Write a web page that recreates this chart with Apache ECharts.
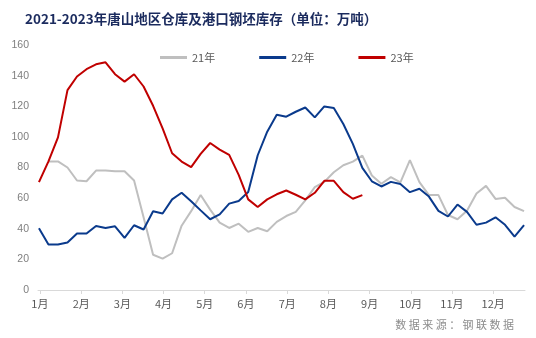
<!DOCTYPE html>
<html>
<head>
<meta charset="utf-8">
<script src="https://cdn.jsdelivr.net/npm/echarts@6/dist/echarts.min.js"></script>
<style>html,body{margin:0;padding:0;background:#fff;}#c{width:536px;height:338px;}</style>
</head>
<body>
<div id="c"></div>
<script>
// Month tick labels and their positions (in weeks from the first week)
var monthLabels = ['1月','2月','3月','4月','5月','6月','7月','8月','9月','10月','11月','12月'];
var monthPos = [0.1, 4.44, 8.77, 13.1, 17.43, 21.76, 26.1, 30.43, 34.76, 39.09, 43.42, 47.75];
var seriesNames = ['21年', '22年', '23年'];
// Weekly values (万吨), week index 0..51
var y21 = [null, 84, 84, 80, 71.5, 71, 78, 78, 77.5, 77.5, 71.5, 47.5, 23, 20.5, 24, 42, 51.5, 62, 52.5, 44,
  40.5, 43.3, 38, 40.5, 38.4, 44.5, 48.3, 51, 58.5, 67.2, 70.6, 76.9, 81.5, 83.8, 87.8, 74.8, 69.4, 73.7, 70.3, 84.8,
  70.5, 62, 62, 49, 46.2, 51.7, 63, 68, 59.5, 60.2, 54.2, 51.5];
var y22 = [40.3, 29.7, 29.7, 31, 36.9, 36.9, 41.8, 40.5, 41.6, 34, 42.3, 39.5, 51.4, 50, 59.2, 63.5, 58, 52, 46.2, 49.4,
  56.4, 58.1, 64, 88, 103.4, 114.5, 113.2, 116.4, 119.2, 112.7, 119.9, 118.8, 108.4, 95.4, 79.8, 71, 67.6, 70.6, 69.2, 63.9,
  66.1, 61, 51.7, 48, 55.8, 51, 42.6, 44, 47.5, 42.6, 34.9, 42.3];
var y23 = [70.4, 84, 99.7, 130.5, 139.4, 144.2, 147.4, 148.7, 140.9, 136.1, 140.9, 132.9, 120.3, 105.5, 89.3, 83.9, 80.2, 88.9, 96, 91.7,
  88.2, 75.2, 59.2, 54.2, 59.2, 62.5, 65, 62.2, 59.2, 63.5, 71.3, 71.3, 63.9, 59.6, 62];
var yTicks = [0, 20, 40, 60, 80, 100, 120, 140, 160];

function pairs(arr) {
  var out = [];
  for (var i = 0; i < arr.length; i++) { if (arr[i] != null) out.push([i, arr[i]]); }
  return out;
}

var chart = echarts.init(document.getElementById('c'), null, {renderer: 'canvas'});
chart.setOption({
  animation: false,
  backgroundColor: '#ffffff',
  title: {
    text: '2021-2023年唐山地区仓库及港口钢坯库存（单位：万吨）',
    left: 20, top: 7,
    textStyle: {fontSize: 13.5, fontWeight: 'bold', color: '#1b2b5e', fontFamily: 'Noto Sans CJK SC'}
  },
  legend: {
    data: seriesNames,
    left: 155, top: 47,
    icon: 'rect', itemWidth: 27, itemHeight: 3, itemGap: 44,
    textStyle: {color: '#595959', fontSize: 11, fontFamily: 'Noto Sans CJK SC'}
  },
  grid: {left: 38, right: 11, top: 45, bottom: 48, containLabel: false},
  xAxis: {
    type: 'value', min: -0.1, max: 51.1,
    axisLine: {show: true, lineStyle: {color: '#d9d9d9', width: 1}},
    axisTick: {show: true, customValues: monthPos, length: 4, lineStyle: {color: '#d9d9d9'}},
    axisLabel: {
      customValues: monthPos, margin: 8, color: '#595959', fontSize: 11, fontFamily: 'Noto Sans CJK SC',
      formatter: function (v) {
        var best = 0, bd = 1e9;
        for (var i = 0; i < monthPos.length; i++) { var d = Math.abs(monthPos[i] - v); if (d < bd) { bd = d; best = i; } }
        return monthLabels[best];
      }
    },
    splitLine: {show: false}
  },
  yAxis: {
    type: 'value', min: yTicks[0], max: yTicks[yTicks.length - 1], interval: 20,
    axisLine: {show: false}, axisTick: {show: false},
    axisLabel: {color: '#7f7f7f', fontSize: 10.5, margin: 9, fontFamily: 'Liberation Sans'},
    splitLine: {show: false}
  },
  series: [
    {name: seriesNames[0], type: 'line', data: pairs(y21), showSymbol: false, color: '#bfbfbf', lineStyle: {width: 2, color: '#bfbfbf'}},
    {name: seriesNames[1], type: 'line', data: pairs(y22), showSymbol: false, color: '#0a3a8c', lineStyle: {width: 2, color: '#0a3a8c'}},
    {name: seriesNames[2], type: 'line', data: pairs(y23), showSymbol: false, color: '#c00000', lineStyle: {width: 2, color: '#c00000'}}
  ],
  graphic: [{
    type: 'text', right: 22, top: 319,
    style: {text: '数 据 来 源 ： 钢 联 数 据', fill: '#8c8c8c', fontSize: 11, fontFamily: 'Noto Sans CJK SC'}
  }]
});
</script>
</body>
</html>
